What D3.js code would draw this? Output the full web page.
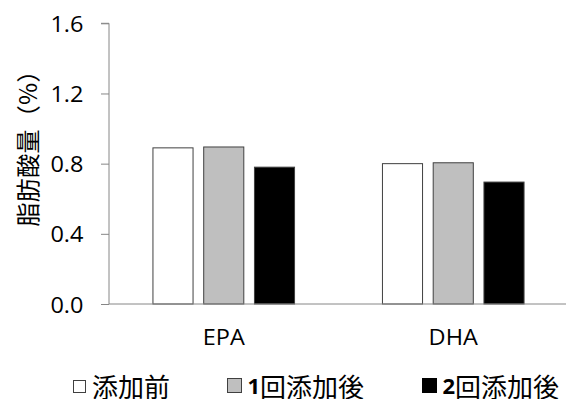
<!DOCTYPE html>
<html>
<head>
<meta charset="utf-8">
<script src="https://cdn.jsdelivr.net/npm/d3@7"></script>
<style>
  html, body { margin: 0; padding: 0; background: #fff; }
  svg { display: block; }
  text { fill: #000; }
</style>
</head>
<body>
<svg id="chart" width="566" height="399"></svg>
<script>
// Fatty acid content before and after additions
const categories = ["EPA", "DHA"];
const seriesNames = ["添加前", "1回添加後", "2回添加後"];
const seriesFill = ["#ffffff", "#bfbfbf", "#000000"];
const epaValues = [0.89, 0.895, 0.78];
const dhaValues = [0.80, 0.805, 0.695];
const yTicks = [0.0, 0.4, 0.8, 1.2, 1.6];
const yTitle = "脂肪酸量（%）";

const values = [epaValues, dhaValues];
const rows = categories.flatMap((c, i) =>
  seriesNames.map((s, j) => ({ category: c, series: s, value: values[i][j], fill: seriesFill[j] }))
);

const svg = d3.select("#chart");
const plotLeft = 109, plotRight = 568, plotTop = 23.3, plotBottom = 304;
const latin = "'Open Sans', sans-serif";
const cjk = "'Noto Sans CJK JP', 'Noto Sans', sans-serif";
const stretch = 1.12; // Latin labels are drawn slightly wide

const x = d3.scaleBand().domain(categories).range([plotLeft, plotRight])
  .paddingInner(0.383).paddingOuter(0.1915);
const xs = d3.scaleBand().domain(seriesNames).range([0, x.bandwidth()])
  .paddingInner(0.21).paddingOuter(0);
const y = d3.scaleLinear().domain([0, 1.6]).range([plotBottom, plotTop]);

// bars
svg.append("g").selectAll("rect").data(rows).join("rect")
  .attr("x", d => x(d.category) + xs(d.series))
  .attr("width", xs.bandwidth())
  .attr("y", d => y(d.value))
  .attr("height", d => y(0) - y(d.value))
  .attr("fill", d => d.fill)
  .attr("stroke", "#404040")
  .attr("stroke-width", 1);

// y axis
const yAxis = svg.append("g").attr("transform", `translate(${plotLeft},0)`)
  .call(d3.axisLeft(y).tickValues(yTicks).tickFormat(d3.format(".1f")).tickSize(8));
yAxis.select(".domain").attr("stroke", "#868686").attr("d", `M-8,${plotTop}H0V${plotBottom}`);
yAxis.selectAll(".tick line").attr("stroke", "#868686");
yAxis.selectAll(".tick text")
  .attr("x", 0).attr("y", 0.5).attr("dy", "0.36em")
  .attr("transform", `translate(-25.5,0) scale(${stretch},1)`)
  .attr("font-size", 21)
  .style("font-family", latin);

// x axis
const xAxis = svg.append("g").attr("transform", `translate(0,${plotBottom})`)
  .call(d3.axisBottom(x).tickSize(0));
xAxis.select(".domain").attr("stroke", "#868686").attr("d", `M${plotLeft},0H566`);
xAxis.selectAll(".tick text")
  .attr("y", 0).attr("dy", 0)
  .attr("transform", `translate(0,41) scale(${stretch},1)`)
  .attr("font-size", 21)
  .style("font-family", latin);

// y axis title
svg.append("text")
  .attr("transform", "translate(26,142.5) rotate(-90)")
  .attr("text-anchor", "middle")
  .attr("dominant-baseline", "central")
  .attr("font-size", 24)
  .attr("textLength", 168)
  .attr("lengthAdjust", "spacing")
  .style("font-family", cjk)
  .text(yTitle);

// legend
const legendX = [72, 227, 422];
const legend = svg.append("g").selectAll("g").data(seriesNames).join("g")
  .attr("transform", (d, i) => `translate(${legendX[i]},378)`);
legend.append("rect")
  .attr("x", (d, i) => i === 0 ? 1.5 : 0.5)
  .attr("y", (d, i) => i === 0 ? 2.5 : 0.5)
  .attr("width", (d, i) => i === 0 ? 12 : 14)
  .attr("height", (d, i) => i === 0 ? 12 : 14)
  .attr("fill", (d, i) => seriesFill[i])
  .attr("stroke", (d, i) => i === 2 ? "#000" : "#404040");
const legendText = legend.append("text")
  .attr("x", (d, i) => i === 0 ? 20 : 20.5)
  .attr("y", 6.5)
  .attr("dominant-baseline", "central")
  .attr("font-size", 26)
  .style("font-family", cjk);
legendText.each(function (d) {
  const t = d3.select(this);
  const m = d.match(/^(\d*)(.*)$/);
  if (m[1]) t.append("tspan").attr("font-weight", "bold").style("font-family", latin).attr("font-size", 22).text(m[1]);
  t.append("tspan").text(m[2]);
});
</script>
</body>
</html>
